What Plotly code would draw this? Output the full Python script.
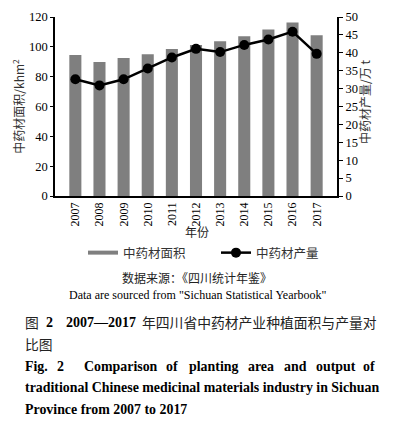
import plotly.graph_objects as go

years = ["2007", "2008", "2009", "2010", "2011", "2012", "2013", "2014", "2015", "2016", "2017"]
area = [94.5, 89.8, 92.5, 95.1, 98.5, 101.3, 103.8, 107.1, 111.6, 116.3, 107.8]
output = [32.6, 30.9, 32.6, 35.6, 38.7, 41.1, 40.2, 42.2, 43.7, 45.9, 39.7]

# page body has an 8px default margin, so the figure is drawn 8px smaller
OFF = 8
W, H = 408 - OFF, 423 - OFF
PL, PR, PT, PB = 55, 337, 17, 196          # plot area in window pixels
L, T = PL - OFF, PT - OFF
R, B = W - (PR - OFF), H - (PB - OFF)
PW, PH = PR - PL, PB - PT

def px(x):
    return (x - PL) / PW

def py(y):
    return (PB - y) / PH

serif = "Liberation Serif, Times New Roman, serif"
cjk = "Noto Sans CJK SC, sans-serif"
txt = "#333333"

fig = go.Figure()
fig.add_trace(go.Bar(x=years, y=area, marker=dict(color="#7f7f7f", line=dict(width=0)),
                     width=0.5, showlegend=False, name="中药材面积"))
fig.add_trace(go.Scatter(x=[None], y=[None], mode="lines", line=dict(color="#7f7f7f", width=4),
                         name="中药材面积", legend="legend"))
fig.add_trace(go.Scatter(x=years, y=output, yaxis="y2", mode="lines+markers",
                         line=dict(color="black", width=2.5),
                         marker=dict(color="black", size=10), name="中药材产量", legend="legend2"))

leg_common = dict(font=dict(family=cjk, size=12.5, color=txt), itemwidth=30,
                  bgcolor="rgba(0,0,0,0)", yanchor="middle", xanchor="left")

fig.update_layout(
    width=W, height=H,
    margin=dict(l=L, r=R, t=T, b=B, autoexpand=False),
    plot_bgcolor="white", paper_bgcolor="white",
    font=dict(family=serif, size=12, color="black"),
    xaxis=dict(type="category", tickangle=-90, showline=True, linecolor="black", linewidth=1.5,
               ticks="", tickfont=dict(family=serif, size=12, color="black"), showgrid=False),
    yaxis=dict(range=[0, 120], dtick=20, showline=True, linecolor="black", linewidth=1.5,
               ticks="outside", ticklen=3, tickcolor="black", showgrid=False, zeroline=False,
               tickfont=dict(family=serif, size=12.5, color="black"),
               title=dict(text="中药材面积/khm<sup>2</sup>", font=dict(family=cjk, size=12, color=txt), standoff=2)),
    yaxis2=dict(range=[0, 50], dtick=5, overlaying="y", side="right", showline=True, linecolor="black",
                linewidth=2, ticks="outside", ticklen=4, tickcolor="black", showgrid=False, zeroline=False,
                tickfont=dict(family=serif, size=12.5, color="black")),
    bargap=0.5,
    legend=dict(x=px(83), y=py(253), **leg_common),
    legend2=dict(x=px(216), y=py(253), **leg_common),
)

# right axis title, drawn as a rotated annotation so it can sit as close as in the reference
fig.add_annotation(text="中药材产量/万 t", x=px(364), y=py(102), xref="paper", yref="paper",
                   textangle=-90, showarrow=False, xanchor="center", yanchor="middle",
                   font=dict(family=cjk, size=12, color=txt))

ann = [
    ("年份", px(197), py(231), "center", cjk, 12, False),
    ("数据来源：《四川统计年鉴》", px(197), py(277), "center", cjk, 12, False),
    ("Data are sourced from \"Sichuan Statistical Yearbook\"", px(197), py(295), "center", serif, 12, False),
    ("图", px(23), py(322), "left", cjk, 13.8, False),
    ("2", px(44), py(322), "left", serif, 14, True),
    ("2007—2017", px(64), py(322), "left", serif, 14, True),
    ("年四川省中药材产业种植面积与产量对", px(140), py(322), "left", cjk, 13.8, False),
    ("比图", px(23), py(344), "left", cjk, 13.8, False),
    ("traditional Chinese medicinal materials industry in Sichuan", px(23), py(388), "left", serif, 13.9, True),
    ("Province from 2007 to 2017", px(23), py(409), "left", serif, 13.9, True),
]
words = [("Fig.", 24), ("2", 56), ("Comparison", 83), ("of", 165), ("planting", 188),
         ("area", 247), ("and", 283), ("output", 315), ("of", 362)]
for w, x in words:
    ann.append((w, px(x - 1), py(366), "left", serif, 13.9, True))

for text, x, y, xa, fam, size, bold in ann:
    fig.add_annotation(text=f"<b>{text}</b>" if bold else text, x=x, y=y, xref="paper", yref="paper",
                       xanchor=xa, yanchor="middle", showarrow=False,
                       font=dict(family=fam, size=size, color="black" if fam == serif else "#222222"))

fig.write_html("out.html")
